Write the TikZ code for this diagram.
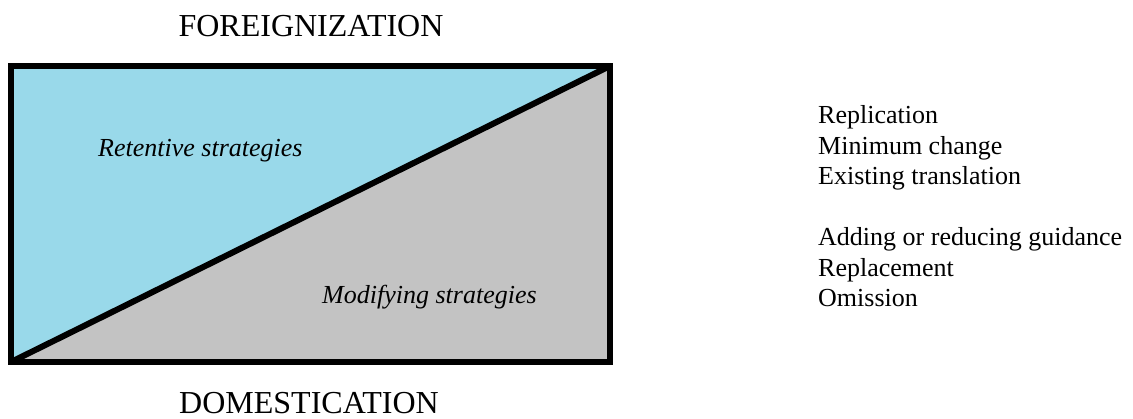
\documentclass[tikz,border=0pt]{standalone}
\usepackage{fontspec}
\setmainfont{Liberation Serif}
\begin{document}
\begin{tikzpicture}[x=1pt,y=-1pt,
  label/.style={inner sep=0pt,font=\fontsize{26}{30}\selectfont},
  pole/.style={inner sep=0pt,anchor=base,font=\fontsize{32}{36}\selectfont},
  listitem/.style={label,anchor=base west},
  frame/.style={line width=6pt,line join=miter}]
\definecolor{retain}{RGB}{153,217,234}
\definecolor{modify}{RGB}{195,195,195}
\useasboundingbox (0,0) rectangle (1133,419);

% corners of the box
\coordinate (tl) at (11,66);
\coordinate (tr) at (610,66);
\coordinate (bl) at (11,362);
\coordinate (br) at (610,362);

% the two halves
\fill[retain] (tl) -- (tr) -- (bl) -- cycle;
\fill[modify] (tr) -- (br) -- (bl) -- cycle;
\draw[line width=6pt] (bl) -- (tr);
\draw[frame] (tl) rectangle (br);

% poles
\node[pole] (foreign) at (311,37) {FOREIGNIZATION};
\node[pole] (domestic) at (309,414) {DOMESTICATION};

% strategy groups
\node[label,anchor=base west] (retentive) at (98,157) {\itshape Retentive strategies};
\node[label,anchor=base west] (modifying) at (322,304) {\itshape Modifying strategies};

% strategy list
\node[listitem] (s1) at (818,124) {Replication};
\node[listitem] (s2) at (818,154.5) {Minimum change};
\node[listitem] (s3) at (818,185) {Existing translation};
\node[listitem] (s4) at (818,246) {Adding or reducing guidance};
\node[listitem] (s5) at (818,276.5) {Replacement};
\node[listitem] (s6) at (818,307) {Omission};
\end{tikzpicture}
\end{document}
